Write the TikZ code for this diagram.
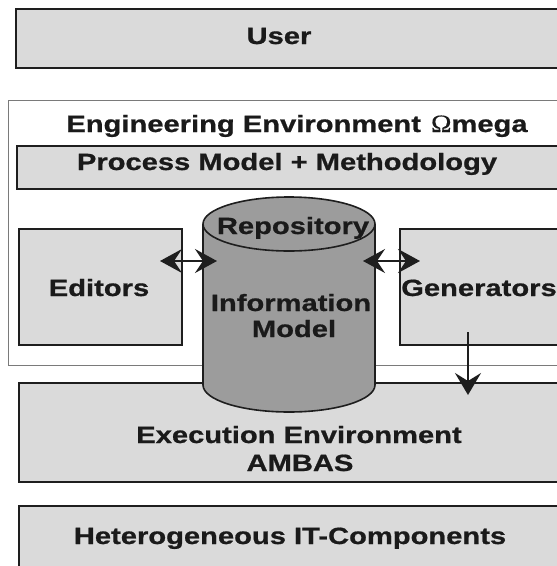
\documentclass[tikz,border=0pt]{standalone}
\usepackage{fontspec}
\usetikzlibrary{arrows.meta}
\newfontfamily\lblfont[FakeStretch=1.24,FakeBold=0.8]{Liberation Sans}
\newfontfamily\omgfont[FakeStretch=1.1,FakeBold=0.3]{Liberation Serif}
\definecolor{lightfill}{HTML}{DADADA}
\definecolor{cylfill}{HTML}{9C9C9C}
\definecolor{edgecol}{HTML}{1E1E1E}
\definecolor{outercol}{HTML}{7A7A7A}
\definecolor{textcol}{HTML}{1A1A1A}
\begin{document}
\begin{tikzpicture}[x=1pt,y=-1pt,
  box/.style={draw=edgecol, line width=2pt, fill=lightfill, inner sep=0pt, anchor=north west},
  outerbox/.style={draw=outercol, line width=0.9pt, fill=white, inner sep=0pt, anchor=north west},
  lbl/.style={font=\lblfont\bfseries\fontsize{23.5}{26}\selectfont, anchor=base, inner sep=0pt, text=textcol},
  cyl/.style={draw=edgecol, line width=1.6pt, fill=cylfill},
  dbl/.style={line width=1.8pt, draw=edgecol, {Stealth[length=22pt,width=24pt,inset=8pt]}-{Stealth[length=22pt,width=24pt,inset=8pt]}},
  conn/.style={line width=1.8pt, draw=edgecol, -{Stealth[length=22pt,width=26pt,inset=8pt]}}
  ]
\useasboundingbox (0,0) rectangle (557,566);
\fill[white] (0,0) rectangle (557,566);
\clip (0,0) rectangle (557,566);
% boxes
\node[box, minimum width=560pt, minimum height=59pt] (user) at (15,8) {};
\node[outerbox, minimum width=560pt, minimum height=265pt] (eng) at (8,100) {};
\node[box, minimum width=560pt, minimum height=43pt] (proc) at (16,145) {};
\node[box, minimum width=163pt, minimum height=116pt] (edit) at (18,228) {};
\node[box, minimum width=170pt, minimum height=116pt] (gen) at (399,228) {};
\node[box, minimum width=560pt, minimum height=99pt] (exec) at (18,382) {};
\node[box, minimum width=560pt, minimum height=90pt] (het) at (18,505) {};
% cylinder
\filldraw[cyl] (203,224) -- (203,385) arc[start angle=180, end angle=0, x radius=86, y radius=27] -- (375,224);
\filldraw[cyl] (289,224) ellipse [x radius=86, y radius=27];
% labels
\node[lbl] (tuser) at (279,44) {User};
\node[lbl] (teng) at (297,132) {Engineering Environment \hspace{2pt}{\omgfont\mdseries\fontsize{25}{26}\selectfont Ω}mega};
\node[lbl] (tproc) at (287,170) {Process Model + Methodology};
\node[lbl] (trepo) at (293,234) {Repository};
\node[lbl] (tedit) at (99,296) {Editors};
\node[lbl] (tgen) at (479,296) {Generators};
\node[lbl] (tinfo) at (291,311) {Information};
\node[lbl] (tmodel) at (294,337) {Model};
\node[lbl] (texec) at (299,443) {Execution Environment};
\node[lbl] (tambas) at (300,471) {AMBAS};
\node[lbl] (thet) at (290,544) {Heterogeneous IT-Components};
% connectors
\coordinate (la) at (160,261);
\coordinate (lb) at (217,261);
\coordinate (ra) at (363,261);
\coordinate (rb) at (420,261);
\coordinate (da) at (468,332);
\coordinate (db) at (468,395);
\draw[dbl] (la) -- (lb);
\draw[dbl] (ra) -- (rb);
\draw[conn] (da) -- (db);
\end{tikzpicture}
\end{document}
